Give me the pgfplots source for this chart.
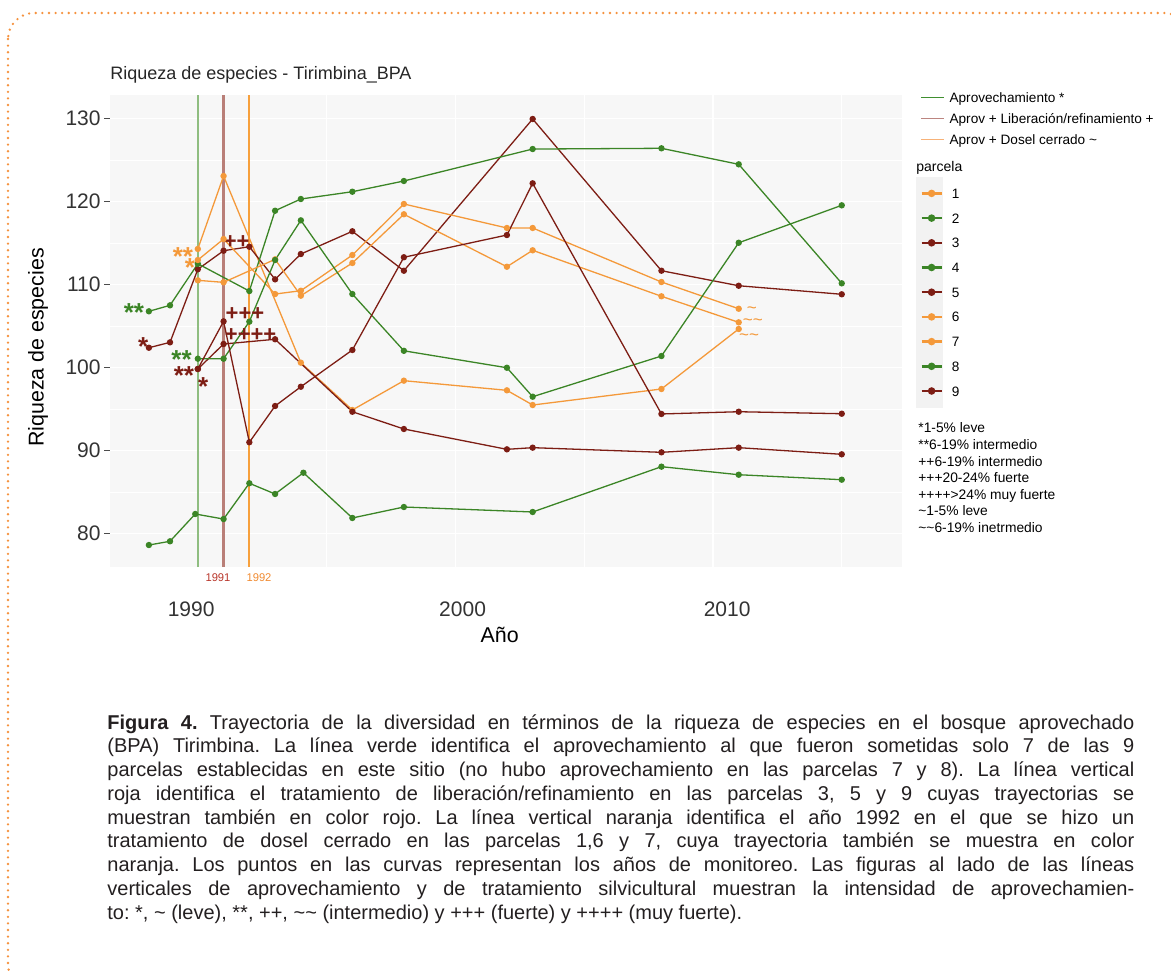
\documentclass[border=0pt]{standalone}
\usepackage{fontspec}
\setmainfont{Liberation Sans}
\usepackage{pgfplots}
\pgfplotsset{compat=1.18}

\definecolor{cgreen}{HTML}{3B8526}
\definecolor{cred}{HTML}{7D1D14}
\definecolor{corange}{HTML}{F4993A}
\definecolor{treatgreen}{RGB}{143,189,128}
\definecolor{treatred}{RGB}{185,127,120}
\definecolor{treatorange}{RGB}{247,160,60}
\definecolor{leggreen}{RGB}{63,143,47}
\definecolor{legred}{RGB}{188,133,128}
\definecolor{legorange}{RGB}{247,178,120}
\definecolor{panel}{HTML}{F7F7F7}
\definecolor{keybg}{HTML}{F2F2F2}
\definecolor{framec}{HTML}{F5923E}
\definecolor{captxt}{HTML}{231F20}
\definecolor{lab91}{HTML}{B8352A}
\definecolor{lab92}{HTML}{F08A30}

\pgfplotsset{
  parc/.style={#1, line width=0.65pt, mark=*, mark size=1.25pt, mark options={solid}},
}
\newcommand{\markfont}[1]{\bfseries\fontsize{#1}{#1}\selectfont}
\frenchspacing

\begin{document}
\begin{tikzpicture}
\begin{scope}[x=0.5pt,y=-0.5pt]
\path[use as bounding box] (0,0) rectangle (1171,971);

% dotted frame
\begin{scope}
\clip (0,0) rectangle (1171,971);
\draw[framec, line width=1.3pt, line cap=round, dash pattern=on 0pt off 3.3pt,
      rounded corners=13pt] (8,13) rectangle (1190,990);
\end{scope}

% grey key background of the parcela legend
\fill[keybg] (916,177) rectangle (943,408);

\node[anchor=base west, inner sep=0, text=black!85,
      font=\fontsize{9}{10}\selectfont] at (110,79)
  {Riqueza de especies - Tirimbina\_BPA};
\end{scope}

\begin{axis}[
  at={(55pt,-283.5pt)}, anchor=south west,
  scale only axis, width=396pt, height=236pt,
  xmin=1986.59, xmax=2017.34, ymin=75.95, ymax=132.82,
  axis background/.style={fill=panel},
  axis line style={draw=none},
  grid=both,
  major grid style={white, line width=0.7pt},
  minor grid style={white, line width=0.35pt},
  xtick={1990,2000,2010}, minor xtick={1995,2005,2015},
  xticklabels={,,},
  extra x ticks={1989.74,2000.28,2010.55},
  extra x tick labels={1990,2000,2010},
  extra x tick style={grid=none},
  ytick={80,90,100,110,120,130}, minor ytick={85,95,105,115,125},
  ytick pos=left,
  tick align=outside,
  major tick length=3pt, minor tick length=0pt,
  xtick style={draw=none},
  ytick style={draw=black!70, line width=0.55pt},
  tick label style={font=\fontsize{10.5}{12}\selectfont, text=black!80,
                    /pgf/number format/assume math mode=true},
  xticklabel style={yshift=-11pt},
  yticklabel style={inner xsep=1.5pt},
  xlabel={Año}, ylabel={Riqueza de especies},
  label style={font=\fontsize{10.7}{12}\selectfont},
  xlabel style={at={(axis description cs:0.492,-0.127)}, anchor=north, inner sep=0pt},
  ylabel style={at={(axis description cs:-0.0909,0.465)}, anchor=center},
  legend style={at={(axis description cs:1.0227,0.803)}, anchor=north west,
                draw=none, fill=none, inner sep=0pt,
                font=\fontsize{6.8}{7}\selectfont,
                row sep=7.35pt, column sep=4.5pt,
                nodes={inner sep=0pt, text height=5pt, text depth=0pt}},
  legend cell align=left,
  legend image code/.code={\draw[mark repeat=2, mark phase=2, #1, line width=1.2pt]
      plot coordinates {(0pt,0pt) (5pt,0pt) (10pt,0pt)};},
]

% treatment years
\addplot[draw=treatgreen, line width=0.8pt, forget plot] coordinates {(1990,75.95) (1990,132.82)};
\addplot[draw=treatred, line width=1.3pt, forget plot] coordinates {(1991,75.95) (1991,132.82)};
\addplot[draw=treatorange, line width=0.9pt, forget plot] coordinates {(1992,75.95) (1992,132.82)};

% parcela 1
\addplot[parc=corange] coordinates {
  (1990,114.27) (1991,123.06) (1994,100.57) (1996,94.87) (1998,98.40)
  (2002,97.24) (2003,95.47) (2008,97.40) (2011,104.63)};
\addlegendentry{1}
% parcela 2
\addplot[parc=cgreen] coordinates {
  (1988.10,78.60) (1988.92,79.05) (1989.9,82.34) (1991,81.73) (1992,86.04)
  (1993,84.75) (1994.1,87.31) (1996,81.86) (1998,83.18) (2003,82.58)
  (2008,88.04) (2011,87.07) (2015,86.47)};
\addlegendentry{2}
% parcela 3
\addplot[parc=cred] coordinates {
  (1988.10,102.37) (1988.92,103.02) (1990,111.82) (1991,114.06) (1992,114.54)
  (1993,110.61) (1994,113.66) (1996,116.40) (1998,111.65) (2003,129.93)
  (2008,111.65) (2011,109.84) (2015,108.81)};
\addlegendentry{3}
% parcela 4
\addplot[parc=cgreen] coordinates {
  (1988.10,106.76) (1988.92,107.48) (1990,112.49) (1992,109.20) (1993,118.88)
  (1994,120.29) (1996,121.17) (1998,122.46) (2003,126.31) (2008,126.40)
  (2011,124.47) (2015,110.13)};
\addlegendentry{4}
% parcela 5
\addplot[parc=cred] coordinates {
  (1990,99.81) (1991,102.82) (1993,103.39) (1996,94.66) (1998,92.58)
  (2002,90.13) (2003,90.33) (2008,89.77) (2011,90.33) (2015,89.53)};
\addlegendentry{5}
% parcela 6
\addplot[parc=corange] coordinates {
  (1990,112.94) (1991,115.47) (1993,108.84) (1994,109.24) (1996,113.54)
  (1998,119.69) (2002,116.80) (2003,116.80) (2008,110.29) (2011,107.07)};
\addlegendentry{6}
% parcela 7
\addplot[parc=corange] coordinates {
  (1990,110.49) (1991,110.25) (1993,113.02) (1994,108.64) (1996,112.58)
  (1998,118.45) (2002,112.13) (2003,114.11) (2008,108.57) (2011,105.43)};
\addlegendentry{7}
% parcela 8
\addplot[parc=cgreen] coordinates {
  (1990,101.05) (1991,101.05) (1992,105.51) (1993,112.94) (1994,117.72)
  (1996,108.84) (1998,102.00) (2002,99.96) (2003,96.47) (2008,101.37)
  (2011,115.02) (2015,119.53)};
\addlegendentry{8}
% parcela 9
\addplot[parc=cred] coordinates {
  (1990,99.81) (1991,105.55) (1992,90.98) (1993,95.35) (1994,97.67)
  (1996,102.10) (1998,113.27) (2002,115.95) (2003,122.18) (2008,94.39)
  (2011,94.66) (2015,94.42)};
\addlegendentry{9}

% intensity marks
\node[anchor=base, inner sep=0, text=cgreen, font=\markfont{13}] at (axis cs:1987.52,105.59) {**};
\node[anchor=base, inner sep=0, text=cred, font=\markfont{13}] at (axis cs:1987.88,101.49) {*};
\node[anchor=base, inner sep=0, text=cgreen, font=\markfont{13}] at (axis cs:1989.37,99.81) {**};
\node[anchor=base, inner sep=0, text=cred, font=\markfont{13}] at (axis cs:1989.46,97.96) {**};
\node[anchor=base, inner sep=0, text=cred, font=\markfont{13}] at (axis cs:1990.21,96.67) {*};
\node[anchor=base, inner sep=0, text=corange, font=\markfont{13}] at (axis cs:1989.42,112.22) {**};
\node[anchor=base, inner sep=0, text=corange, font=\markfont{13}] at (axis cs:1989.69,110.93) {*};
\node[anchor=base, inner sep=0, text=cred, font=\markfont{11}] at (axis cs:1991.51,114.30) {++};
\node[anchor=base, inner sep=0, text=cred, font=\markfont{11}] at (axis cs:1991.83,105.63) {+++};
\node[anchor=base, inner sep=0, text=cred, font=\markfont{11}] at (axis cs:1992.05,103.14) {++++};
\node[anchor=base, inner sep=0, text=corange, font=\fontsize{8.5}{8.5}\selectfont] at (axis cs:2011.51,106.45) {\textasciitilde};
\node[anchor=base, inner sep=0, text=corange, font=\fontsize{8.5}{8.5}\selectfont] at (axis cs:2011.55,105.06) {\textasciitilde\textasciitilde};
\node[anchor=base, inner sep=0, text=corange, font=\fontsize{8.5}{8.5}\selectfont] at (axis cs:2011.40,103.25) {\textasciitilde\textasciitilde};
\end{axis}

% legend of the treatments
\begin{axis}[
  at={(55pt,-283.5pt)}, anchor=south west,
  scale only axis, width=396pt, height=236pt,
  hide axis, xmin=0, xmax=1, ymin=0, ymax=1,
  legend style={at={(axis description cs:1.0227,1.0064)}, anchor=north west,
                draw=none, fill=none, inner sep=0pt,
                font=\fontsize{6.8}{7}\selectfont,
                row sep=5.5pt, column sep=2.5pt,
                nodes={inner sep=0pt, text height=5pt, text depth=0pt}},
  legend cell align=left,
  legend image code/.code={\draw[#1] (0pt,0pt) -- (11.5pt,0pt);},
]
\addlegendimage{draw=leggreen, line width=0.6pt}
\addlegendentry{Aprovechamiento *}
\addlegendimage{draw=legred, line width=0.6pt}
\addlegendentry{Aprov + Liberación/refinamiento +}
\addlegendimage{draw=legorange, line width=0.6pt}
\addlegendentry{Aprov + Dosel cerrado \textasciitilde}
\end{axis}

\begin{scope}[x=0.5pt,y=-0.5pt]
\node[anchor=base west, inner sep=0, font=\fontsize{7}{8}\selectfont] at (916,171) {parcela};

\node[anchor=base, inner sep=0, text=lab91, font=\fontsize{5.6}{6}\selectfont] at (218,581.5) {1991};
\node[anchor=base, inner sep=0, text=lab92, font=\fontsize{5.6}{6}\selectfont] at (259,581.5) {1992};

% intensity key
\begin{scope}[every node/.style={anchor=base west, inner sep=0, font=\fontsize{6.9}{7}\selectfont}]
\node at (918,432.8) {*1-5\% leve};
\node at (918,449.4) {**6-19\% intermedio};
\node at (918,466.0) {++6-19\% intermedio};
\node at (918,482.6) {+++20-24\% fuerte};
\node at (918,499.2) {++++>24\% muy fuerte};
\node at (918,515.8) {\textasciitilde1-5\% leve};
\node at (918,532.4) {\textasciitilde\textasciitilde6-19\% inetrmedio};
\end{scope}

% caption
\begin{scope}[every node/.style={anchor=base west, inner sep=0, text=captxt, font=\fontsize{10}{12}\selectfont}]
\node at (107,729.0) {\makebox[513.5pt][s]{\textbf{Figura 4.} Trayectoria de la diversidad en términos de la riqueza de especies en el bosque aprovechado}};
\node at (107,752.8) {\makebox[513.5pt][s]{(BPA) Tirimbina. La línea verde identifica el aprovechamiento al que fueron sometidas solo 7 de las 9}};
\node at (107,776.5) {\makebox[513.5pt][s]{parcelas establecidas en este sitio (no hubo aprovechamiento en las parcelas 7 y 8). La línea vertical}};
\node at (107,800.3) {\makebox[513.5pt][s]{roja identifica el tratamiento de liberación/refinamiento en las parcelas 3, 5 y 9 cuyas trayectorias se}};
\node at (107,824.0) {\makebox[513.5pt][s]{muestran también en color rojo. La línea vertical naranja identifica el año 1992 en el que se hizo un}};
\node at (107,847.8) {\makebox[513.5pt][s]{tratamiento de dosel cerrado en las parcelas 1,6 y 7, cuya trayectoria también se muestra en color}};
\node at (107,871.5) {\makebox[513.5pt][s]{naranja. Los puntos en las curvas representan los años de monitoreo. Las figuras al lado de las líneas}};
\node at (107,895.3) {\makebox[513.5pt][s]{verticales de aprovechamiento y de tratamiento silvicultural muestran la intensidad de aprovechamien-}};
\node at (107,919.0) {to: *, \textasciitilde{} (leve), **, ++, \textasciitilde\textasciitilde{} (intermedio) y +++ (fuerte) y ++++ (muy fuerte).};
\end{scope}
\end{scope}
\end{tikzpicture}
\end{document}
